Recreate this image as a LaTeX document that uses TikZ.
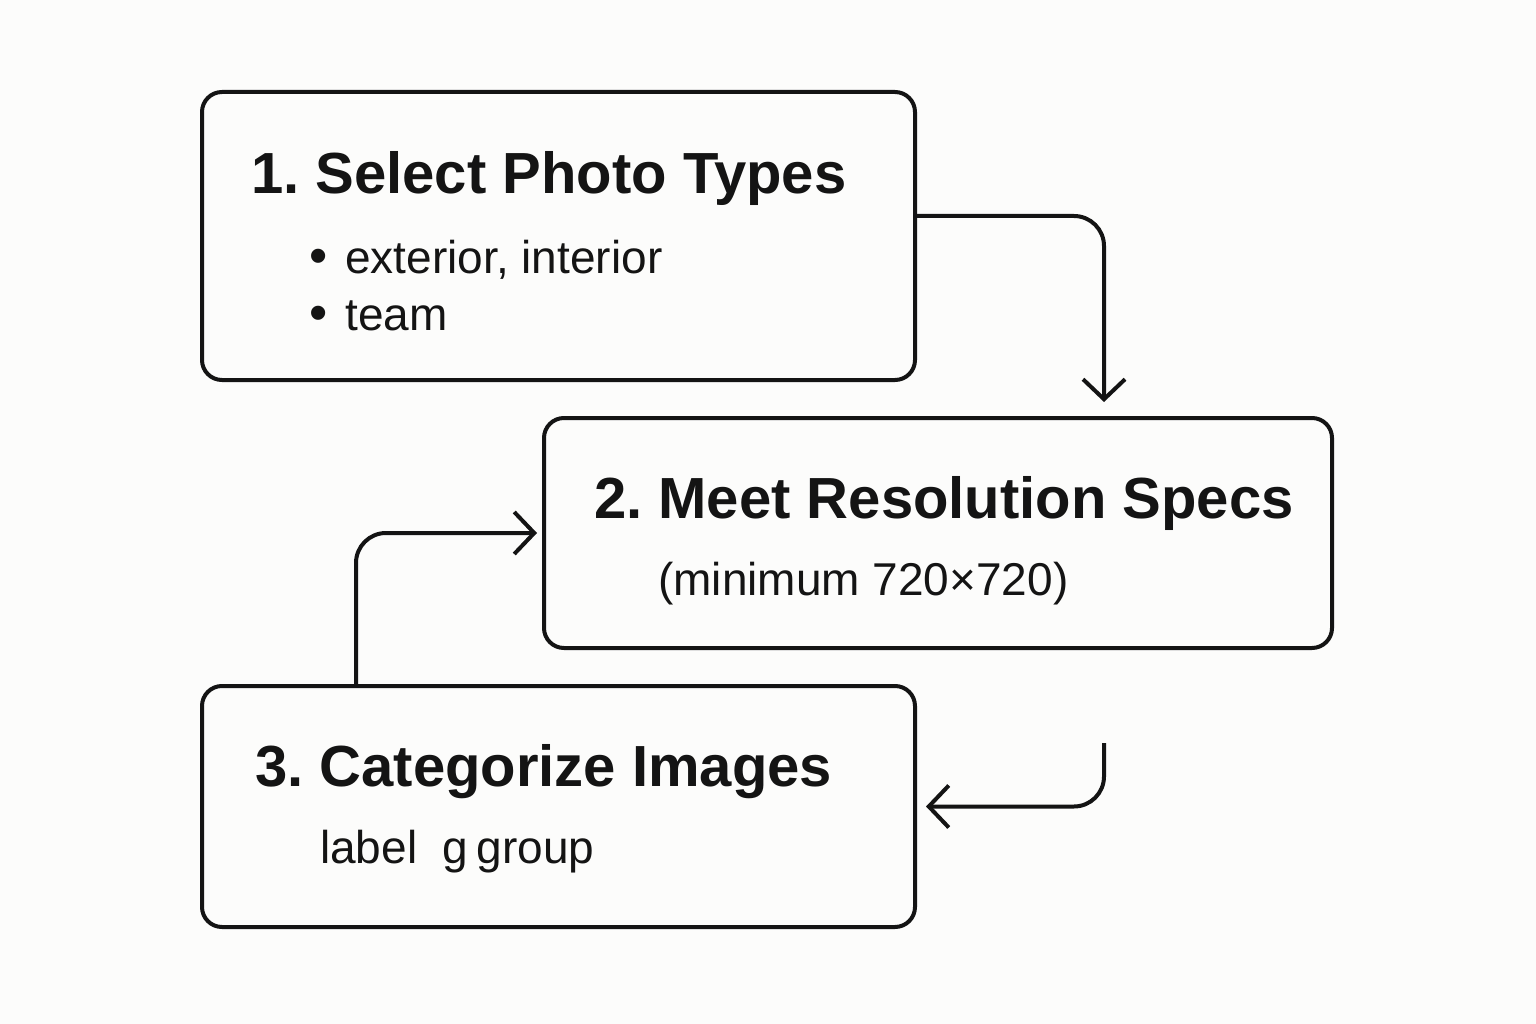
\documentclass[tikz,border=0pt]{standalone}
\usepackage{fontspec}
\setmainfont{Liberation Sans}
\usetikzlibrary{arrows.meta}
\definecolor{ink}{HTML}{141414}
\definecolor{paper}{HTML}{FCFCFB}
\frenchspacing
\begin{document}
\begin{tikzpicture}[x=1pt,y=-1pt,
  box/.style={draw=ink,line width=4pt,rounded corners=20pt,inner sep=0pt},
  title/.style={anchor=base west,inner sep=0pt,text=ink,font=\fontsize{58}{60}\selectfont\bfseries},
  body/.style={anchor=base west,inner sep=0pt,text=ink,font=\fontsize{46}{50}\selectfont},
  arr/.style={draw=ink,line width=4pt,rounded corners=30pt,-{Straight Barb[length=20pt,width=42pt]}}]
\fill[paper] (0,0) rectangle (1536,1024);
\useasboundingbox (0,0) rectangle (1536,1024);
% boxes
\node[box,minimum width=713pt,minimum height=288pt] (b1) at (558.5,236) {};
\node[box,minimum width=788pt,minimum height=230pt] (b2) at (938,533) {};
\node[box,minimum width=713pt,minimum height=241pt] (b3) at (558.5,806.5) {};
% texts
\node[title] (t1) at (251,194) {1. Select Photo Types};
\node[body] (l1) at (309,273) {{\fontsize{52}{52}\selectfont•}\hspace{18pt}exterior, interior};
\node[body] (l2) at (309,330) {{\fontsize{52}{52}\selectfont•}\hspace{18pt}team};
\node[title] (t2) at (594,518) {2. Meet Resolution Specs};
\node[body] (s2) at (658,595) {(minimum 720×720)};
\node[title] (t3) at (255,786) {3. Categorize Images};
\node[body] (s3) at (320,863) {label\hspace{25pt}g\hspace{9pt}group};
% connectors
\draw[arr] ([yshift=20pt]b1.east) -| ([xshift=166pt,yshift=14pt]b2.north);
\draw[arr] ([xshift=-202.5pt]b3.north) |- ([xshift=-5pt]b2.west);
\coordinate (c3) at (1104,743);
\draw[arr] (c3) |- ([xshift=9pt]b3.east);
\end{tikzpicture}
\end{document}
